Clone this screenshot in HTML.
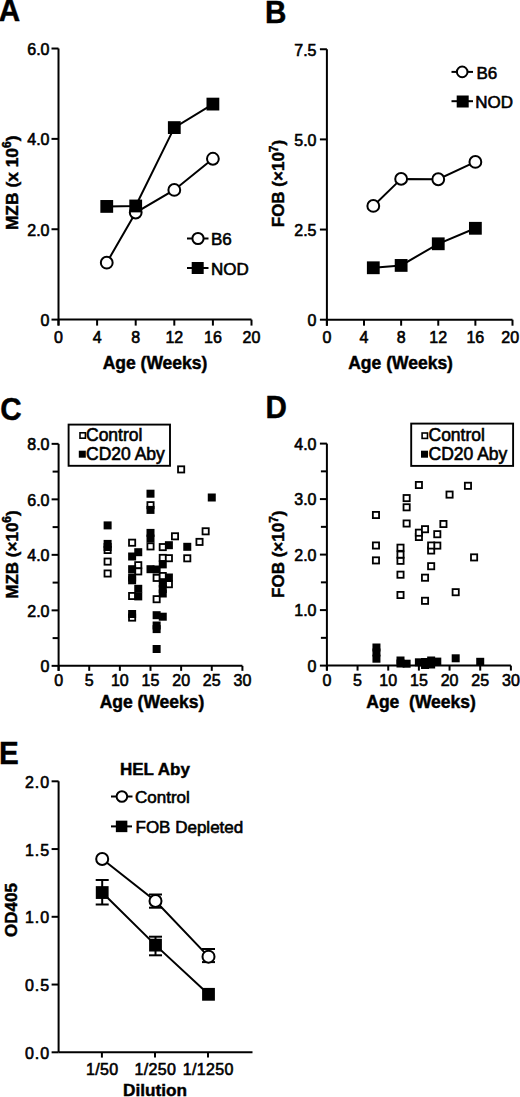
<!DOCTYPE html>
<html><head><meta charset="utf-8"><style>
html,body{margin:0;padding:0;background:#fff;}
svg{display:block;}
text{font-family:"Liberation Sans", sans-serif;fill:#000;stroke:#000;stroke-width:0.6px;}
text[font-weight="bold"]{stroke-width:0.45px;}
</style></head><body>
<svg width="520" height="1097" viewBox="0 0 520 1097">
<rect width="520" height="1097" fill="#fff"/>
<text transform="translate(-1.3,20.6) scale(0.94,1)" font-size="31.5" font-weight="bold">A</text>
<text transform="translate(264.9,23.4) scale(0.94,1)" font-size="31.5" font-weight="bold">B</text>
<text transform="translate(0.2,420.4) scale(0.94,1)" font-size="31.5" font-weight="bold">C</text>
<text transform="translate(265.5,418.4) scale(0.94,1)" font-size="31.5" font-weight="bold">D</text>
<text transform="translate(-1.0,763.7) scale(0.94,1)" font-size="31.5" font-weight="bold">E</text>
<line x1="58.50" y1="48.52" x2="58.50" y2="325.60" stroke="#000" stroke-width="2"/>
<line x1="58.50" y1="319.60" x2="251.50" y2="319.60" stroke="#000" stroke-width="2"/>
<line x1="51.50" y1="48.52" x2="58.50" y2="48.52" stroke="#000" stroke-width="2"/>
<text x="49.50" y="54.82" font-size="16" font-weight="normal" text-anchor="end" >6.0</text>
<line x1="51.50" y1="138.88" x2="58.50" y2="138.88" stroke="#000" stroke-width="2"/>
<text x="49.50" y="145.18" font-size="16" font-weight="normal" text-anchor="end" >4.0</text>
<line x1="51.50" y1="229.24" x2="58.50" y2="229.24" stroke="#000" stroke-width="2"/>
<text x="49.50" y="235.54" font-size="16" font-weight="normal" text-anchor="end" >2.0</text>
<line x1="51.50" y1="319.60" x2="58.50" y2="319.60" stroke="#000" stroke-width="2"/>
<text x="49.50" y="325.90" font-size="16" font-weight="normal" text-anchor="end" >0</text>
<line x1="58.50" y1="319.60" x2="58.50" y2="325.60" stroke="#000" stroke-width="2"/>
<text x="58.50" y="342.60" font-size="16" font-weight="normal" text-anchor="middle" >0</text>
<line x1="97.10" y1="319.60" x2="97.10" y2="325.60" stroke="#000" stroke-width="2"/>
<text x="97.10" y="342.60" font-size="16" font-weight="normal" text-anchor="middle" >4</text>
<line x1="135.70" y1="319.60" x2="135.70" y2="325.60" stroke="#000" stroke-width="2"/>
<text x="135.70" y="342.60" font-size="16" font-weight="normal" text-anchor="middle" >8</text>
<line x1="174.30" y1="319.60" x2="174.30" y2="325.60" stroke="#000" stroke-width="2"/>
<text x="174.30" y="342.60" font-size="16" font-weight="normal" text-anchor="middle" >12</text>
<line x1="212.90" y1="319.60" x2="212.90" y2="325.60" stroke="#000" stroke-width="2"/>
<text x="212.90" y="342.60" font-size="16" font-weight="normal" text-anchor="middle" >16</text>
<line x1="251.50" y1="319.60" x2="251.50" y2="325.60" stroke="#000" stroke-width="2"/>
<text x="251.50" y="342.60" font-size="16" font-weight="normal" text-anchor="middle" >20</text>
<text transform="translate(17.50,182.80) rotate(-90)" font-size="17.4" font-weight="bold" text-anchor="middle">MZB (x 10<tspan font-size="12" dy="-6.5">6</tspan><tspan dy="6.5">)</tspan></text>
<text x="155.00" y="369.00" font-size="17.5" font-weight="bold" text-anchor="middle" >Age (Weeks)</text>
<polyline points="106.75,262.67 135.70,212.52 174.30,189.93 212.90,158.76" fill="none" stroke="#000" stroke-width="2"/>
<polyline points="106.75,206.42 135.70,205.97 174.30,127.59 212.90,104.09" fill="none" stroke="#000" stroke-width="2"/>
<circle cx="106.75" cy="262.67" r="5.9" fill="#fff" stroke="#000" stroke-width="2"/>
<circle cx="135.70" cy="212.52" r="5.9" fill="#fff" stroke="#000" stroke-width="2"/>
<circle cx="174.30" cy="189.93" r="5.9" fill="#fff" stroke="#000" stroke-width="2"/>
<circle cx="212.90" cy="158.76" r="5.9" fill="#fff" stroke="#000" stroke-width="2"/>
<rect x="100.35" y="200.02" width="12.8" height="12.8" fill="#000"/>
<rect x="129.30" y="199.57" width="12.8" height="12.8" fill="#000"/>
<rect x="167.90" y="121.19" width="12.8" height="12.8" fill="#000"/>
<rect x="206.50" y="97.69" width="12.8" height="12.8" fill="#000"/>
<line x1="187.00" y1="238.50" x2="208.50" y2="238.50" stroke="#000" stroke-width="2"/>
<circle cx="198.00" cy="238.50" r="5.6" fill="#fff" stroke="#000" stroke-width="2"/>
<text x="211.00" y="245.00" font-size="17" font-weight="normal" text-anchor="start" >B6</text>
<line x1="187.00" y1="268.00" x2="208.50" y2="268.00" stroke="#000" stroke-width="2"/>
<rect x="191.70" y="262.00" width="12" height="12" fill="#000"/>
<text x="211.00" y="274.50" font-size="17" font-weight="normal" text-anchor="start" >NOD</text>
<line x1="326.90" y1="49.25" x2="326.90" y2="325.70" stroke="#000" stroke-width="2"/>
<line x1="326.90" y1="319.70" x2="512.50" y2="319.70" stroke="#000" stroke-width="2"/>
<line x1="319.90" y1="49.25" x2="326.90" y2="49.25" stroke="#000" stroke-width="2"/>
<text x="316.50" y="55.55" font-size="16" font-weight="normal" text-anchor="end" >7.5</text>
<line x1="319.90" y1="139.40" x2="326.90" y2="139.40" stroke="#000" stroke-width="2"/>
<text x="316.50" y="145.70" font-size="16" font-weight="normal" text-anchor="end" >5.0</text>
<line x1="319.90" y1="229.55" x2="326.90" y2="229.55" stroke="#000" stroke-width="2"/>
<text x="316.50" y="235.85" font-size="16" font-weight="normal" text-anchor="end" >2.5</text>
<line x1="319.90" y1="319.70" x2="326.90" y2="319.70" stroke="#000" stroke-width="2"/>
<text x="316.50" y="326.00" font-size="16" font-weight="normal" text-anchor="end" >0</text>
<line x1="326.90" y1="319.70" x2="326.90" y2="325.70" stroke="#000" stroke-width="2"/>
<text x="326.90" y="342.60" font-size="16" font-weight="normal" text-anchor="middle" >0</text>
<line x1="364.02" y1="319.70" x2="364.02" y2="325.70" stroke="#000" stroke-width="2"/>
<text x="364.02" y="342.60" font-size="16" font-weight="normal" text-anchor="middle" >4</text>
<line x1="401.14" y1="319.70" x2="401.14" y2="325.70" stroke="#000" stroke-width="2"/>
<text x="401.14" y="342.60" font-size="16" font-weight="normal" text-anchor="middle" >8</text>
<line x1="438.26" y1="319.70" x2="438.26" y2="325.70" stroke="#000" stroke-width="2"/>
<text x="438.26" y="342.60" font-size="16" font-weight="normal" text-anchor="middle" >12</text>
<line x1="475.38" y1="319.70" x2="475.38" y2="325.70" stroke="#000" stroke-width="2"/>
<text x="475.38" y="342.60" font-size="16" font-weight="normal" text-anchor="middle" >16</text>
<line x1="512.50" y1="319.70" x2="512.50" y2="325.70" stroke="#000" stroke-width="2"/>
<text x="510.20" y="342.60" font-size="16" font-weight="normal" text-anchor="middle" >20</text>
<text transform="translate(284.30,183.50) rotate(-90)" font-size="17" font-weight="bold" text-anchor="middle">FOB (&#215;10<tspan font-size="12" dy="-6.5">7</tspan><tspan dy="6.5">)</tspan></text>
<text x="400.60" y="369.00" font-size="17.5" font-weight="bold" text-anchor="middle" >Age (Weeks)</text>
<polyline points="373.30,205.93 401.14,178.89 438.26,179.25 475.38,161.94" fill="none" stroke="#000" stroke-width="2"/>
<polyline points="373.30,267.77 401.14,265.43 438.26,243.79 475.38,228.29" fill="none" stroke="#000" stroke-width="2"/>
<circle cx="373.30" cy="205.93" r="5.9" fill="#fff" stroke="#000" stroke-width="2"/>
<circle cx="401.14" cy="178.89" r="5.9" fill="#fff" stroke="#000" stroke-width="2"/>
<circle cx="438.26" cy="179.25" r="5.9" fill="#fff" stroke="#000" stroke-width="2"/>
<circle cx="475.38" cy="161.94" r="5.9" fill="#fff" stroke="#000" stroke-width="2"/>
<rect x="366.90" y="261.37" width="12.8" height="12.8" fill="#000"/>
<rect x="394.74" y="259.03" width="12.8" height="12.8" fill="#000"/>
<rect x="431.86" y="237.39" width="12.8" height="12.8" fill="#000"/>
<rect x="468.98" y="221.89" width="12.8" height="12.8" fill="#000"/>
<line x1="451.50" y1="71.90" x2="473.00" y2="71.90" stroke="#000" stroke-width="2"/>
<circle cx="462.20" cy="71.90" r="5.3" fill="#fff" stroke="#000" stroke-width="2"/>
<text x="476.50" y="78.50" font-size="17" font-weight="normal" text-anchor="start" >B6</text>
<line x1="451.50" y1="101.20" x2="473.00" y2="101.20" stroke="#000" stroke-width="2"/>
<rect x="456.70" y="95.50" width="12" height="12" fill="#000"/>
<text x="475.30" y="107.50" font-size="17" font-weight="normal" text-anchor="start" >NOD</text>
<line x1="58.60" y1="443.85" x2="58.60" y2="670.85" stroke="#000" stroke-width="2"/>
<line x1="58.60" y1="665.85" x2="242.41" y2="665.85" stroke="#000" stroke-width="2"/>
<line x1="51.60" y1="665.85" x2="58.60" y2="665.85" stroke="#000" stroke-width="2"/>
<text x="49.50" y="672.15" font-size="16" font-weight="normal" text-anchor="end" >0</text>
<line x1="52.60" y1="638.10" x2="58.60" y2="638.10" stroke="#000" stroke-width="2"/>
<line x1="51.60" y1="610.35" x2="58.60" y2="610.35" stroke="#000" stroke-width="2"/>
<text x="49.50" y="616.65" font-size="16" font-weight="normal" text-anchor="end" >2.0</text>
<line x1="52.60" y1="582.60" x2="58.60" y2="582.60" stroke="#000" stroke-width="2"/>
<line x1="51.60" y1="554.85" x2="58.60" y2="554.85" stroke="#000" stroke-width="2"/>
<text x="49.50" y="561.15" font-size="16" font-weight="normal" text-anchor="end" >4.0</text>
<line x1="52.60" y1="527.10" x2="58.60" y2="527.10" stroke="#000" stroke-width="2"/>
<line x1="51.60" y1="499.35" x2="58.60" y2="499.35" stroke="#000" stroke-width="2"/>
<text x="49.50" y="505.65" font-size="16" font-weight="normal" text-anchor="end" >6.0</text>
<line x1="52.60" y1="471.60" x2="58.60" y2="471.60" stroke="#000" stroke-width="2"/>
<line x1="51.60" y1="443.85" x2="58.60" y2="443.85" stroke="#000" stroke-width="2"/>
<text x="49.50" y="450.15" font-size="16" font-weight="normal" text-anchor="end" >8.0</text>
<line x1="58.60" y1="665.85" x2="58.60" y2="670.85" stroke="#000" stroke-width="2"/>
<text x="58.60" y="685.50" font-size="16" font-weight="normal" text-anchor="middle" >0</text>
<line x1="89.23" y1="665.85" x2="89.23" y2="670.85" stroke="#000" stroke-width="2"/>
<text x="89.23" y="685.50" font-size="16" font-weight="normal" text-anchor="middle" >5</text>
<line x1="119.87" y1="665.85" x2="119.87" y2="670.85" stroke="#000" stroke-width="2"/>
<text x="119.87" y="685.50" font-size="16" font-weight="normal" text-anchor="middle" >10</text>
<line x1="150.50" y1="665.85" x2="150.50" y2="670.85" stroke="#000" stroke-width="2"/>
<text x="150.50" y="685.50" font-size="16" font-weight="normal" text-anchor="middle" >15</text>
<line x1="181.14" y1="665.85" x2="181.14" y2="670.85" stroke="#000" stroke-width="2"/>
<text x="181.14" y="685.50" font-size="16" font-weight="normal" text-anchor="middle" >20</text>
<line x1="211.77" y1="665.85" x2="211.77" y2="670.85" stroke="#000" stroke-width="2"/>
<text x="211.77" y="685.50" font-size="16" font-weight="normal" text-anchor="middle" >25</text>
<line x1="242.41" y1="665.85" x2="242.41" y2="670.85" stroke="#000" stroke-width="2"/>
<text x="242.41" y="685.50" font-size="16" font-weight="normal" text-anchor="middle" >30</text>
<text transform="translate(17.60,554.50) rotate(-90)" font-size="17" font-weight="bold" text-anchor="middle">MZB (&#215;10<tspan font-size="12" dy="-6.5">6</tspan><tspan dy="6.5">)</tspan></text>
<text x="152.00" y="707.50" font-size="17.5" font-weight="bold" text-anchor="middle" >Age (Weeks)</text>
<rect x="68.6" y="424.6" width="101.4" height="41.2" fill="none" stroke="#000" stroke-width="1.9"/>
<rect x="80.00" y="432.80" width="5.4" height="5.4" fill="#fff" stroke="#000" stroke-width="1.6"/>
<text x="86.00" y="441.00" font-size="17.5" font-weight="normal" text-anchor="start" >Control</text>
<rect x="78.80" y="450.70" width="7" height="7" fill="#000"/>
<text x="86.00" y="459.50" font-size="17.5" font-weight="normal" text-anchor="start" >CD20 Aby</text>
<rect x="104.52" y="546.90" width="6.2" height="6.2" fill="#fff" stroke="#000" stroke-width="1.8"/>
<rect x="104.52" y="558.50" width="6.2" height="6.2" fill="#fff" stroke="#000" stroke-width="1.8"/>
<rect x="104.52" y="570.40" width="6.2" height="6.2" fill="#fff" stroke="#000" stroke-width="1.8"/>
<rect x="129.02" y="539.60" width="6.2" height="6.2" fill="#fff" stroke="#000" stroke-width="1.8"/>
<rect x="129.02" y="592.90" width="6.2" height="6.2" fill="#fff" stroke="#000" stroke-width="1.8"/>
<rect x="129.02" y="614.50" width="6.2" height="6.2" fill="#fff" stroke="#000" stroke-width="1.8"/>
<rect x="135.15" y="562.10" width="6.2" height="6.2" fill="#fff" stroke="#000" stroke-width="1.8"/>
<rect x="135.15" y="568.30" width="6.2" height="6.2" fill="#fff" stroke="#000" stroke-width="1.8"/>
<rect x="147.41" y="502.10" width="6.2" height="6.2" fill="#fff" stroke="#000" stroke-width="1.8"/>
<rect x="147.41" y="543.30" width="6.2" height="6.2" fill="#fff" stroke="#000" stroke-width="1.8"/>
<rect x="153.53" y="574.80" width="6.2" height="6.2" fill="#fff" stroke="#000" stroke-width="1.8"/>
<rect x="153.53" y="596.10" width="6.2" height="6.2" fill="#fff" stroke="#000" stroke-width="1.8"/>
<rect x="159.66" y="544.00" width="6.2" height="6.2" fill="#fff" stroke="#000" stroke-width="1.8"/>
<rect x="159.66" y="554.80" width="6.2" height="6.2" fill="#fff" stroke="#000" stroke-width="1.8"/>
<rect x="159.66" y="572.90" width="6.2" height="6.2" fill="#fff" stroke="#000" stroke-width="1.8"/>
<rect x="165.79" y="555.10" width="6.2" height="6.2" fill="#fff" stroke="#000" stroke-width="1.8"/>
<rect x="165.79" y="581.10" width="6.2" height="6.2" fill="#fff" stroke="#000" stroke-width="1.8"/>
<rect x="171.91" y="533.20" width="6.2" height="6.2" fill="#fff" stroke="#000" stroke-width="1.8"/>
<rect x="178.04" y="466.30" width="6.2" height="6.2" fill="#fff" stroke="#000" stroke-width="1.8"/>
<rect x="184.17" y="555.20" width="6.2" height="6.2" fill="#fff" stroke="#000" stroke-width="1.8"/>
<rect x="196.42" y="538.80" width="6.2" height="6.2" fill="#fff" stroke="#000" stroke-width="1.8"/>
<rect x="202.55" y="528.20" width="6.2" height="6.2" fill="#fff" stroke="#000" stroke-width="1.8"/>
<rect x="103.62" y="521.40" width="8" height="8" fill="#000"/>
<rect x="103.62" y="539.90" width="8" height="8" fill="#000"/>
<rect x="103.62" y="543.00" width="8" height="8" fill="#000"/>
<rect x="128.12" y="552.50" width="8" height="8" fill="#000"/>
<rect x="128.12" y="565.20" width="8" height="8" fill="#000"/>
<rect x="128.12" y="573.50" width="8" height="8" fill="#000"/>
<rect x="128.12" y="576.30" width="8" height="8" fill="#000"/>
<rect x="128.12" y="610.00" width="8" height="8" fill="#000"/>
<rect x="134.25" y="548.20" width="8" height="8" fill="#000"/>
<rect x="134.25" y="584.80" width="8" height="8" fill="#000"/>
<rect x="134.25" y="592.40" width="8" height="8" fill="#000"/>
<rect x="146.50" y="489.70" width="8" height="8" fill="#000"/>
<rect x="146.50" y="505.90" width="8" height="8" fill="#000"/>
<rect x="146.50" y="528.90" width="8" height="8" fill="#000"/>
<rect x="146.50" y="534.60" width="8" height="8" fill="#000"/>
<rect x="146.50" y="565.20" width="8" height="8" fill="#000"/>
<rect x="152.63" y="565.50" width="8" height="8" fill="#000"/>
<rect x="152.63" y="611.20" width="8" height="8" fill="#000"/>
<rect x="152.63" y="621.50" width="8" height="8" fill="#000"/>
<rect x="152.63" y="625.10" width="8" height="8" fill="#000"/>
<rect x="152.63" y="645.00" width="8" height="8" fill="#000"/>
<rect x="158.76" y="560.40" width="8" height="8" fill="#000"/>
<rect x="158.76" y="579.50" width="8" height="8" fill="#000"/>
<rect x="158.76" y="585.00" width="8" height="8" fill="#000"/>
<rect x="158.76" y="589.50" width="8" height="8" fill="#000"/>
<rect x="158.76" y="612.70" width="8" height="8" fill="#000"/>
<rect x="164.89" y="541.20" width="8" height="8" fill="#000"/>
<rect x="164.89" y="573.50" width="8" height="8" fill="#000"/>
<rect x="183.27" y="542.80" width="8" height="8" fill="#000"/>
<rect x="207.77" y="493.50" width="8" height="8" fill="#000"/>
<line x1="326.90" y1="443.60" x2="326.90" y2="670.60" stroke="#000" stroke-width="2"/>
<line x1="326.90" y1="665.60" x2="510.89" y2="665.60" stroke="#000" stroke-width="2"/>
<line x1="319.90" y1="665.60" x2="326.90" y2="665.60" stroke="#000" stroke-width="2"/>
<text x="316.50" y="671.90" font-size="16" font-weight="normal" text-anchor="end" >0</text>
<line x1="320.90" y1="637.85" x2="326.90" y2="637.85" stroke="#000" stroke-width="2"/>
<line x1="319.90" y1="610.10" x2="326.90" y2="610.10" stroke="#000" stroke-width="2"/>
<text x="316.50" y="616.40" font-size="16" font-weight="normal" text-anchor="end" >1.0</text>
<line x1="320.90" y1="582.35" x2="326.90" y2="582.35" stroke="#000" stroke-width="2"/>
<line x1="319.90" y1="554.60" x2="326.90" y2="554.60" stroke="#000" stroke-width="2"/>
<text x="316.50" y="560.90" font-size="16" font-weight="normal" text-anchor="end" >2.0</text>
<line x1="320.90" y1="526.85" x2="326.90" y2="526.85" stroke="#000" stroke-width="2"/>
<line x1="319.90" y1="499.10" x2="326.90" y2="499.10" stroke="#000" stroke-width="2"/>
<text x="316.50" y="505.40" font-size="16" font-weight="normal" text-anchor="end" >3.0</text>
<line x1="320.90" y1="471.35" x2="326.90" y2="471.35" stroke="#000" stroke-width="2"/>
<line x1="319.90" y1="443.60" x2="326.90" y2="443.60" stroke="#000" stroke-width="2"/>
<text x="316.50" y="449.90" font-size="16" font-weight="normal" text-anchor="end" >4.0</text>
<line x1="326.90" y1="665.60" x2="326.90" y2="670.60" stroke="#000" stroke-width="2"/>
<text x="326.90" y="685.50" font-size="16" font-weight="normal" text-anchor="middle" >0</text>
<line x1="357.56" y1="665.60" x2="357.56" y2="670.60" stroke="#000" stroke-width="2"/>
<text x="357.56" y="685.50" font-size="16" font-weight="normal" text-anchor="middle" >5</text>
<line x1="388.23" y1="665.60" x2="388.23" y2="670.60" stroke="#000" stroke-width="2"/>
<text x="388.23" y="685.50" font-size="16" font-weight="normal" text-anchor="middle" >10</text>
<line x1="418.89" y1="665.60" x2="418.89" y2="670.60" stroke="#000" stroke-width="2"/>
<text x="418.89" y="685.50" font-size="16" font-weight="normal" text-anchor="middle" >15</text>
<line x1="449.56" y1="665.60" x2="449.56" y2="670.60" stroke="#000" stroke-width="2"/>
<text x="449.56" y="685.50" font-size="16" font-weight="normal" text-anchor="middle" >20</text>
<line x1="480.22" y1="665.60" x2="480.22" y2="670.60" stroke="#000" stroke-width="2"/>
<text x="480.22" y="685.50" font-size="16" font-weight="normal" text-anchor="middle" >25</text>
<line x1="510.89" y1="665.60" x2="510.89" y2="670.60" stroke="#000" stroke-width="2"/>
<text x="510.89" y="685.50" font-size="16" font-weight="normal" text-anchor="middle" >30</text>
<text transform="translate(284.20,554.20) rotate(-90)" font-size="17" font-weight="bold" text-anchor="middle">FOB (&#215;10<tspan font-size="12" dy="-6.5">7</tspan><tspan dy="6.5">)</tspan></text>
<text x="421.10" y="707.50" font-size="17.5" font-weight="bold" text-anchor="middle" xml:space="preserve">Age  (Weeks)</text>
<rect x="411.2" y="423.6" width="101.9" height="42.3" fill="none" stroke="#000" stroke-width="1.9"/>
<rect x="422.10" y="433.00" width="5.4" height="5.4" fill="#fff" stroke="#000" stroke-width="1.6"/>
<text x="428.50" y="441.00" font-size="17.5" font-weight="normal" text-anchor="start" >Control</text>
<rect x="421.00" y="450.70" width="7" height="7" fill="#000"/>
<text x="428.50" y="459.50" font-size="17.5" font-weight="normal" text-anchor="start" >CD20 Aby</text>
<rect x="421.93" y="597.70" width="6.2" height="6.2" fill="#fff" stroke="#000" stroke-width="1.8"/>
<rect x="397.40" y="591.90" width="6.2" height="6.2" fill="#fff" stroke="#000" stroke-width="1.8"/>
<rect x="452.59" y="589.10" width="6.2" height="6.2" fill="#fff" stroke="#000" stroke-width="1.8"/>
<rect x="421.93" y="574.60" width="6.2" height="6.2" fill="#fff" stroke="#000" stroke-width="1.8"/>
<rect x="397.40" y="571.60" width="6.2" height="6.2" fill="#fff" stroke="#000" stroke-width="1.8"/>
<rect x="428.06" y="563.10" width="6.2" height="6.2" fill="#fff" stroke="#000" stroke-width="1.8"/>
<rect x="397.40" y="557.70" width="6.2" height="6.2" fill="#fff" stroke="#000" stroke-width="1.8"/>
<rect x="372.86" y="557.30" width="6.2" height="6.2" fill="#fff" stroke="#000" stroke-width="1.8"/>
<rect x="470.99" y="554.30" width="6.2" height="6.2" fill="#fff" stroke="#000" stroke-width="1.8"/>
<rect x="397.40" y="551.50" width="6.2" height="6.2" fill="#fff" stroke="#000" stroke-width="1.8"/>
<rect x="428.06" y="547.40" width="6.2" height="6.2" fill="#fff" stroke="#000" stroke-width="1.8"/>
<rect x="397.40" y="544.60" width="6.2" height="6.2" fill="#fff" stroke="#000" stroke-width="1.8"/>
<rect x="434.19" y="542.50" width="6.2" height="6.2" fill="#fff" stroke="#000" stroke-width="1.8"/>
<rect x="372.86" y="542.40" width="6.2" height="6.2" fill="#fff" stroke="#000" stroke-width="1.8"/>
<rect x="428.06" y="542.40" width="6.2" height="6.2" fill="#fff" stroke="#000" stroke-width="1.8"/>
<rect x="415.79" y="533.90" width="6.2" height="6.2" fill="#fff" stroke="#000" stroke-width="1.8"/>
<rect x="434.19" y="531.10" width="6.2" height="6.2" fill="#fff" stroke="#000" stroke-width="1.8"/>
<rect x="415.79" y="529.60" width="6.2" height="6.2" fill="#fff" stroke="#000" stroke-width="1.8"/>
<rect x="421.93" y="526.10" width="6.2" height="6.2" fill="#fff" stroke="#000" stroke-width="1.8"/>
<rect x="440.33" y="520.90" width="6.2" height="6.2" fill="#fff" stroke="#000" stroke-width="1.8"/>
<rect x="403.53" y="520.40" width="6.2" height="6.2" fill="#fff" stroke="#000" stroke-width="1.8"/>
<rect x="372.86" y="511.90" width="6.2" height="6.2" fill="#fff" stroke="#000" stroke-width="1.8"/>
<rect x="403.53" y="504.20" width="6.2" height="6.2" fill="#fff" stroke="#000" stroke-width="1.8"/>
<rect x="403.53" y="495.00" width="6.2" height="6.2" fill="#fff" stroke="#000" stroke-width="1.8"/>
<rect x="446.46" y="491.50" width="6.2" height="6.2" fill="#fff" stroke="#000" stroke-width="1.8"/>
<rect x="464.86" y="482.70" width="6.2" height="6.2" fill="#fff" stroke="#000" stroke-width="1.8"/>
<rect x="415.79" y="481.90" width="6.2" height="6.2" fill="#fff" stroke="#000" stroke-width="1.8"/>
<rect x="372.45" y="643.50" width="8" height="8" fill="#000"/>
<rect x="372.45" y="648.50" width="8" height="8" fill="#000"/>
<rect x="372.45" y="654.70" width="8" height="8" fill="#000"/>
<rect x="396.50" y="656.50" width="8" height="8" fill="#000"/>
<rect x="396.50" y="659.50" width="8" height="8" fill="#000"/>
<rect x="402.63" y="659.70" width="8" height="8" fill="#000"/>
<rect x="414.89" y="658.30" width="8" height="8" fill="#000"/>
<rect x="421.03" y="661.00" width="8" height="8" fill="#000"/>
<rect x="421.03" y="658.00" width="8" height="8" fill="#000"/>
<rect x="427.16" y="656.50" width="8" height="8" fill="#000"/>
<rect x="427.16" y="660.50" width="8" height="8" fill="#000"/>
<rect x="433.29" y="657.60" width="8" height="8" fill="#000"/>
<rect x="451.69" y="654.30" width="8" height="8" fill="#000"/>
<rect x="476.22" y="657.80" width="8" height="8" fill="#000"/>
<line x1="58.60" y1="781.30" x2="58.60" y2="1052.30" stroke="#000" stroke-width="2"/>
<line x1="58.60" y1="1052.30" x2="252.50" y2="1052.30" stroke="#000" stroke-width="2"/>
<line x1="51.60" y1="781.30" x2="58.60" y2="781.30" stroke="#000" stroke-width="2"/>
<text x="50.00" y="787.80" font-size="16" font-weight="normal" text-anchor="end" letter-spacing="0.9">2.0</text>
<line x1="51.60" y1="849.05" x2="58.60" y2="849.05" stroke="#000" stroke-width="2"/>
<text x="50.00" y="855.55" font-size="16" font-weight="normal" text-anchor="end" letter-spacing="0.9">1.5</text>
<line x1="51.60" y1="916.80" x2="58.60" y2="916.80" stroke="#000" stroke-width="2"/>
<text x="50.00" y="923.30" font-size="16" font-weight="normal" text-anchor="end" letter-spacing="0.9">1.0</text>
<line x1="51.60" y1="984.55" x2="58.60" y2="984.55" stroke="#000" stroke-width="2"/>
<text x="50.00" y="991.05" font-size="16" font-weight="normal" text-anchor="end" letter-spacing="0.9">0.5</text>
<line x1="51.60" y1="1052.30" x2="58.60" y2="1052.30" stroke="#000" stroke-width="2"/>
<text x="50.00" y="1058.80" font-size="16" font-weight="normal" text-anchor="end" letter-spacing="0.9">0.0</text>
<line x1="101.90" y1="1052.30" x2="101.90" y2="1057.60" stroke="#000" stroke-width="2"/>
<text x="102.20" y="1075.20" font-size="16" font-weight="normal" text-anchor="middle" letter-spacing="0.35">1/50</text>
<line x1="155.00" y1="1052.30" x2="155.00" y2="1057.60" stroke="#000" stroke-width="2"/>
<text x="155.30" y="1075.20" font-size="16" font-weight="normal" text-anchor="middle" letter-spacing="0.35">1/250</text>
<line x1="208.00" y1="1052.30" x2="208.00" y2="1057.60" stroke="#000" stroke-width="2"/>
<text x="208.30" y="1075.20" font-size="16" font-weight="normal" text-anchor="middle" letter-spacing="0.35">1/1250</text>
<text x="155.00" y="1095.60" font-size="17.2" font-weight="bold" text-anchor="middle" >Dilution</text>
<text transform="translate(17.40,910.00) rotate(-90)" font-size="17" font-weight="bold" text-anchor="middle">OD405</text>
<text x="120.00" y="774.50" font-size="17" font-weight="bold" text-anchor="start" >HEL Aby</text>
<polyline points="102.20,858.94 155.50,900.95 208.50,956.64" fill="none" stroke="#000" stroke-width="2"/>
<polyline points="102.20,892.55 155.50,945.12 208.50,994.31" fill="none" stroke="#000" stroke-width="2"/>
<line x1="155.50" y1="894.50" x2="155.50" y2="907.70" stroke="#000" stroke-width="2"/>
<line x1="149.00" y1="894.50" x2="162.00" y2="894.50" stroke="#000" stroke-width="2"/>
<line x1="149.00" y1="907.70" x2="162.00" y2="907.70" stroke="#000" stroke-width="2"/>
<line x1="208.50" y1="949.00" x2="208.50" y2="962.10" stroke="#000" stroke-width="2"/>
<line x1="202.00" y1="949.00" x2="215.00" y2="949.00" stroke="#000" stroke-width="2"/>
<line x1="202.00" y1="962.10" x2="215.00" y2="962.10" stroke="#000" stroke-width="2"/>
<line x1="102.20" y1="880.00" x2="102.20" y2="904.50" stroke="#000" stroke-width="2"/>
<line x1="95.70" y1="880.00" x2="108.70" y2="880.00" stroke="#000" stroke-width="2"/>
<line x1="95.70" y1="904.50" x2="108.70" y2="904.50" stroke="#000" stroke-width="2"/>
<line x1="155.50" y1="936.70" x2="155.50" y2="955.30" stroke="#000" stroke-width="2"/>
<line x1="149.00" y1="936.70" x2="162.00" y2="936.70" stroke="#000" stroke-width="2"/>
<line x1="149.00" y1="955.30" x2="162.00" y2="955.30" stroke="#000" stroke-width="2"/>
<circle cx="102.20" cy="858.94" r="6.0" fill="#fff" stroke="#000" stroke-width="2"/>
<circle cx="155.50" cy="900.95" r="6.0" fill="#fff" stroke="#000" stroke-width="2"/>
<circle cx="208.50" cy="956.64" r="6.0" fill="#fff" stroke="#000" stroke-width="2"/>
<rect x="95.80" y="886.15" width="12.8" height="12.8" fill="#000"/>
<rect x="149.10" y="938.72" width="12.8" height="12.8" fill="#000"/>
<rect x="202.10" y="987.91" width="12.8" height="12.8" fill="#000"/>
<line x1="111.00" y1="796.50" x2="132.50" y2="796.50" stroke="#000" stroke-width="2"/>
<circle cx="121.90" cy="796.50" r="5.3" fill="#fff" stroke="#000" stroke-width="2"/>
<text x="135.00" y="803.30" font-size="17" font-weight="normal" text-anchor="start" >Control</text>
<line x1="111.00" y1="826.40" x2="132.00" y2="826.40" stroke="#000" stroke-width="2"/>
<rect x="115.85" y="820.65" width="11.5" height="11.5" fill="#000"/>
<text x="135.50" y="833.30" font-size="17" font-weight="normal" text-anchor="start" >FOB Depleted</text>
</svg>
</body></html>
